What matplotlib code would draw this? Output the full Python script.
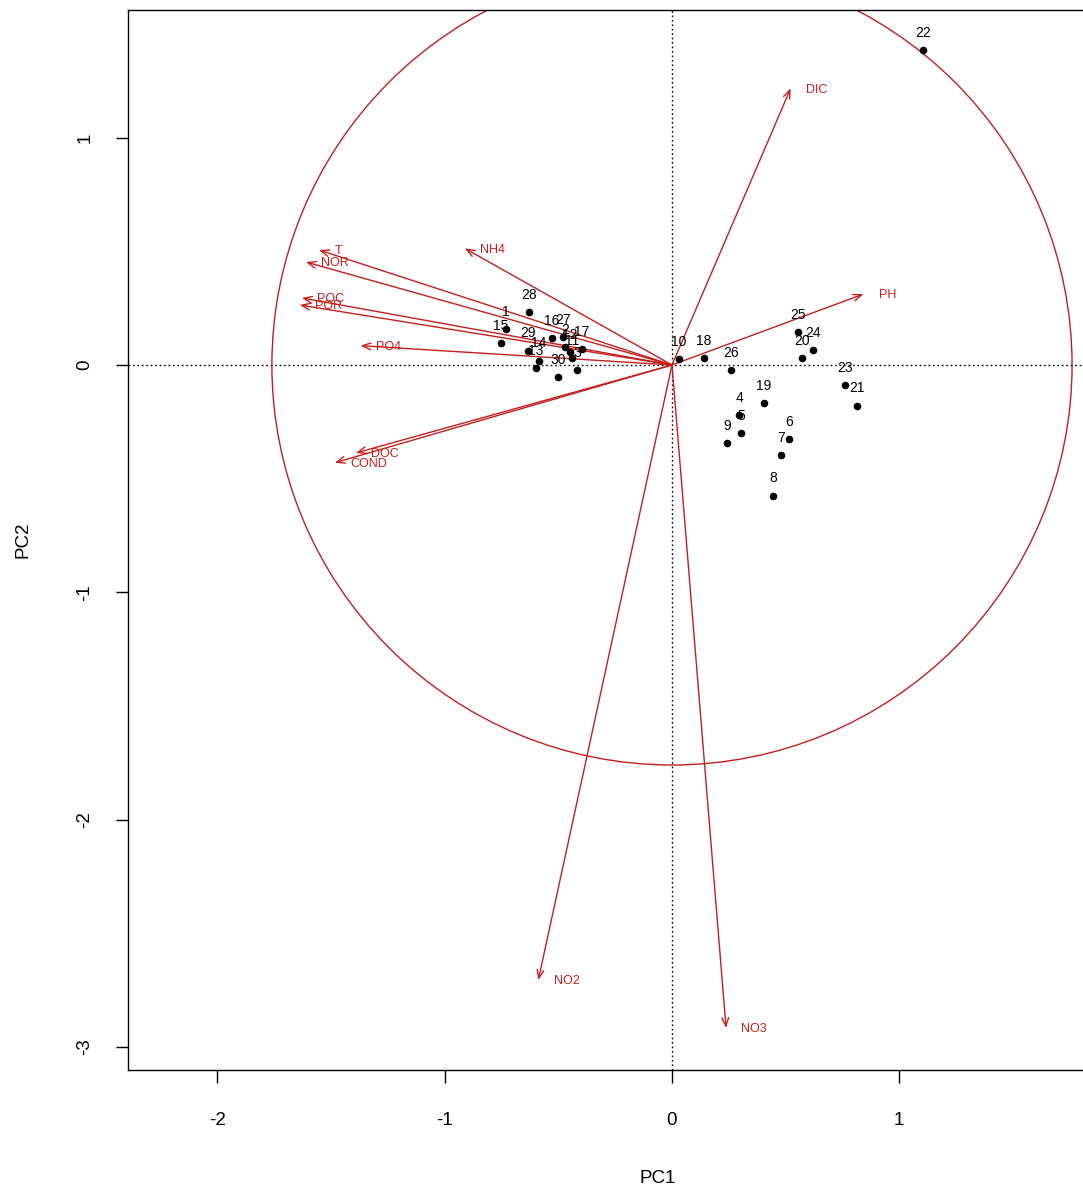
import matplotlib
matplotlib.use("Agg")
import matplotlib.pyplot as plt
from matplotlib.patches import Circle

plt.rcParams['font.family'] = ['Liberation Sans', 'DejaVu Sans']

# Site scores on the first two principal components
site_ids = [str(i) for i in range(1, 31)]
pc1_scores = [-0.730, -0.471, -0.418, 0.295, 0.304, 0.515, 0.480, 0.444, 0.242, 0.031,
              -0.440, -0.449, -0.598, -0.585, -0.752, -0.528, -0.396, 0.141, 0.405, 0.572,
              0.814, 1.104, 0.761, 0.620, 0.554, 0.260, -0.480, -0.629, -0.634, -0.502]
pc2_scores = [0.158, 0.079, -0.022, -0.220, -0.299, -0.326, -0.396, -0.576, -0.343, 0.026,
              0.031, 0.057, -0.013, 0.018, 0.097, 0.119, 0.070, 0.031, -0.167, 0.031,
              -0.180, 1.386, -0.088, 0.066, 0.145, -0.022, 0.123, 0.233, 0.062, -0.053]

# Variable loadings (arrow tips)
var_names = ['DIC', 'PH', 'NH4', 'T', 'NOR', 'POC', 'POR', 'PO4', 'DOC', 'COND', 'NO2', 'NO3']
var_pc1 = [0.522, 0.842, -0.911, -1.553, -1.610, -1.628, -1.637, -1.370, -1.390, -1.483, -0.588, 0.238]
var_pc2 = [1.217, 0.312, 0.513, 0.506, 0.453, 0.295, 0.264, 0.085, -0.387, -0.430, -2.706, -2.917]

circle_radius = 1.76
x_ticks = [-2, -1, 0, 1]
y_ticks = [-3, -2, -1, 0, 1]

fig = plt.figure(figsize=(10.83, 11.91), dpi=100)
ax = fig.add_axes([128 / 1083, 121 / 1191, 1060 / 1083, 1060 / 1191])
ax.set_xlim(-2.393, 2.270)
ax.set_ylim(-3.102, 1.562)

arrow_col = '#C41E1E'

# Reference lines through the origin
ax.axhline(0, color='black', lw=1, ls=(0, (1.2, 2)), zorder=1)
ax.axvline(0, color='black', lw=1, ls=(0, (1.2, 2)), zorder=1)

# Circle of equilibrium contribution
ax.add_patch(Circle((0, 0), circle_radius, fill=False, edgecolor=arrow_col, lw=1, zorder=2))

# Loading arrows
for name, vx, vy in zip(var_names, var_pc1, var_pc2):
    ax.annotate('', xy=(vx, vy), xytext=(0, 0),
                arrowprops=dict(arrowstyle='->,head_length=0.6,head_width=0.24',
                                color=arrow_col, lw=1, shrinkA=0, shrinkB=0),
                zorder=3)
    ax.annotate(name, xy=(vx, vy), xytext=(11, -1), textcoords='offset points',
                ha='left', va='center', color=arrow_col, fontsize=9, zorder=4)

# Site points with labels above
ax.scatter(pc1_scores, pc2_scores, s=30, color='black', zorder=5, linewidths=0)
for lab, sx, sy in zip(site_ids, pc1_scores, pc2_scores):
    ax.annotate(lab, xy=(sx, sy), xytext=(0, 7.5), textcoords='offset points',
                ha='center', va='bottom', fontsize=10, color='black', zorder=6)

ax.set_xticks(x_ticks)
ax.set_yticks(y_ticks)
ax.set_xticklabels([str(v) for v in x_ticks], fontsize=13.5)
ax.set_yticklabels([str(v) for v in y_ticks], fontsize=13.5, rotation=90, va='center')
ax.tick_params(direction='out', length=9, width=1, pad=21)
ax.tick_params(axis='y', pad=16)
for sp in ax.spines.values():
    sp.set_linewidth(1)

ax.set_xlabel('PC1', fontsize=13.5, labelpad=30)
ax.set_ylabel('PC2', fontsize=13.5, labelpad=32)

fig.savefig('out.png', dpi=100)
